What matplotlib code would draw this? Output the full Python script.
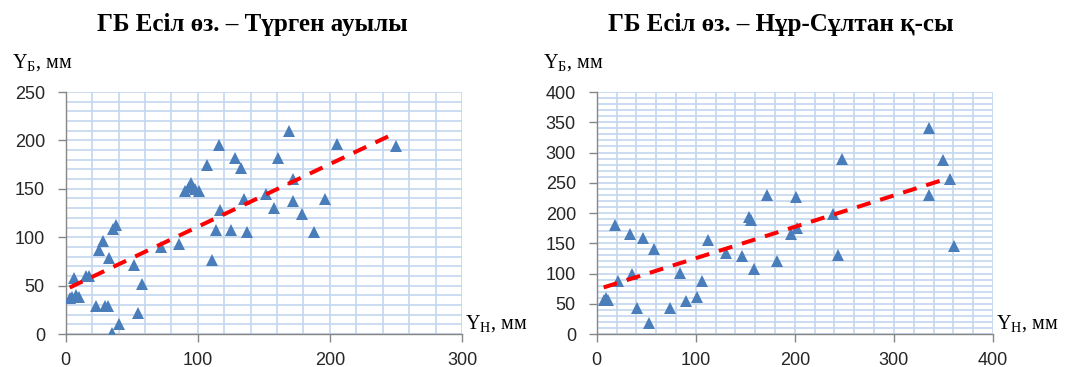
import numpy as np
import matplotlib.pyplot as plt
from matplotlib.ticker import MultipleLocator

plt.rcParams.update({
    'mathtext.fontset': 'custom',
    'mathtext.rm': 'Liberation Serif',
    'mathtext.it': 'Liberation Serif:italic',
})

# left panel: ГБ Есіл өз. - Түрген ауылы
x1 = [3, 5, 8, 10, 6, 15, 18, 23, 25, 28, 30, 32, 33, 35, 36, 38, 40,
      52, 55, 58, 72, 86, 90, 93, 95, 98, 101, 107, 111, 114, 116, 117,
      125, 128, 133, 135, 137, 152, 158, 161, 169, 172, 172, 179, 188,
      196, 205, 250]
y1 = [37, 38, 40, 38, 58, 60, 60, 29, 87, 96, 29, 29, 79, 1, 108, 113, 10,
      71, 22, 52, 90, 93, 148, 152, 156, 150, 148, 175, 76, 107, 195, 128,
      107, 182, 171, 139, 105, 145, 130, 182, 210, 160, 137, 124, 105,
      139, 196, 194]
trend1_x = [3, 247]
trend1_y = [48, 206]

# right panel: ГБ Есіл өз. - Нұр-Сұлтан қ-сы
x2 = [7, 9, 11, 18, 21, 34, 36, 41, 47, 53, 58, 74, 84, 90, 101, 106, 112,
      130, 147, 154, 156, 159, 172, 182, 196, 201, 202, 238, 244, 248,
      335, 335, 350, 357, 361]
y2 = [57, 60, 57, 180, 87, 166, 100, 43, 159, 19, 140, 43, 101, 54, 61, 87,
      155, 134, 129, 194, 189, 108, 230, 120, 166, 227, 176, 198, 130, 290,
      341, 230, 287, 257, 146]
trend2_x = [7, 350]
trend2_y = [77, 255]

titles = ['ГБ Есіл өз. – Түрген ауылы', 'ГБ Есіл өз. – Нұр-Сұлтан қ-сы']

fig = plt.figure(figsize=(10.65, 3.67), dpi=100)
ax1 = fig.add_axes([0.0617, 0.0899, 0.3721, 0.6594])
ax2 = fig.add_axes([0.5603, 0.0899, 0.3721, 0.6594])

panels = [
    (ax1, x1, y1, trend1_x, trend1_y, 300, 250, titles[0], 0.237),
    (ax2, x2, y2, trend2_x, trend2_y, 400, 400, titles[1], 0.733),
]

for ax, xs, ys, tx, ty, xmax, ymax, title, tpos in panels:
    ax.set_xlim(0, xmax)
    ax.set_ylim(0, ymax)
    ax.xaxis.set_major_locator(MultipleLocator(100))
    ax.yaxis.set_major_locator(MultipleLocator(50))
    ax.xaxis.set_minor_locator(MultipleLocator(20))
    ax.yaxis.set_minor_locator(MultipleLocator(10))
    ax.grid(which='both', color='#c3d7ef', linewidth=1.2)
    ax.tick_params(which='minor', length=0)
    ax.tick_params(which='major', length=6, color='#868686', width=1,
                   labelsize=13, labelcolor='#262626')
    ax.tick_params(axis='y', pad=9)
    ax.tick_params(axis='x', pad=7)
    for lab in ax.get_xticklabels() + ax.get_yticklabels():
        lab.set_family('Liberation Sans')
    ax.set_axisbelow(True)
    for s in ['top', 'right']:
        ax.spines[s].set_visible(False)
    for s in ['left', 'bottom']:
        ax.spines[s].set_color('#868686')
        ax.spines[s].set_linewidth(1)

    ax.plot(xs, ys, linestyle='none', marker='^', markersize=8,
            color='#4a7ebb', markeredgewidth=0, zorder=3)
    line, = ax.plot(tx, ty, color='#ff0000', linewidth=2.9, zorder=4,
                    solid_capstyle='butt', dash_capstyle='butt')
    line.set_dashes([3.5, 2.5])

    fig.text(tpos, 0.932, title, ha='center', va='center',
             family='Liberation Serif', fontweight='bold', fontsize=18)
    ax.text(-0.135, 1.12, 'Y$_\\mathrm{Б}$, мм', transform=ax.transAxes,
            family='Liberation Serif', fontsize=14.5, ha='left', va='center')
    ax.text(1.008, 0.045, 'Y$_\\mathrm{Н}$, мм', transform=ax.transAxes,
            family='Liberation Serif', fontsize=14.5, ha='left', va='center')

fig.savefig('out.png', dpi=100)
